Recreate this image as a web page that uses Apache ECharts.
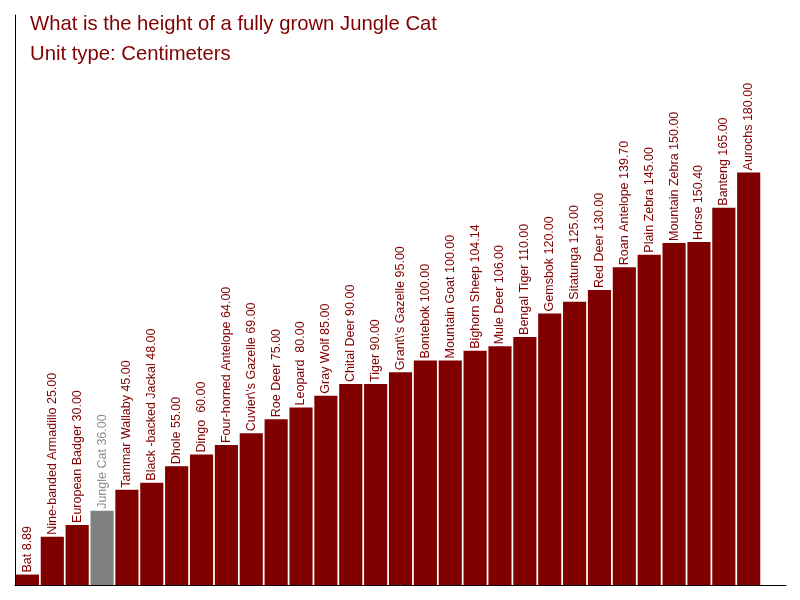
<!DOCTYPE html>
<html>
<head>
<meta charset="utf-8">
<script src="https://cdn.jsdelivr.net/npm/echarts@6/dist/echarts.min.js"></script>
<style>
  html, body { margin: 0; padding: 0; background: #fff; }
  #box { width: 800px; height: 600px; }
</style>
</head>
<body>
<div id="box"></div>
<script>
// data
var animals = ['Bat', 'Nine-banded Armadillo', 'European Badger', 'Jungle Cat', 'Tammar Wallaby',
  'Black -backed Jackal', 'Dhole', 'Dingo ', 'Four-horned Antelope', "Cuvier\\'s Gazelle",
  'Roe Deer', 'Leopard ', 'Gray Wolf', 'Chital Deer', 'Tiger', "Grant\\'s Gazelle", 'Bontebok',
  'Mountain Goat', 'Bighorn Sheep', 'Mule Deer', 'Bengal Tiger', 'Gemsbok', 'Sitatunga',
  'Red Deer', 'Roan Antelope', 'Plain Zebra', 'Mountain Zebra', 'Horse', 'Banteng', 'Aurochs'];
var heights = [8.89, 25, 30, 36, 45, 48, 55, 60, 64, 69, 75, 80, 85, 90, 90, 95, 100, 100,
  104.14, 106, 110, 120, 125, 130, 139.7, 145, 150, 150.4, 165, 180];
var highlight = 'Jungle Cat';

var barColor = '#800000';
var greyColor = '#808080';

var chart = echarts.init(document.getElementById('box'));

var seriesData = heights.map(function (v, i) {
  var isHi = animals[i] === highlight;
  return {
    value: v,
    itemStyle: { color: isHi ? greyColor : barColor },
    label: { color: isHi ? '#8c8c8c' : barColor }
  };
});

chart.setOption({
  animation: false,
  title: {
    text: 'What is the height of a fully grown Jungle Cat\nUnit type: Centimeters',
    left: 25,
    top: 4,
    textStyle: {
      color: barColor,
      fontFamily: 'Liberation Sans, Arial, sans-serif',
      fontSize: 20.3,
      fontWeight: 'normal',
      lineHeight: 30
    }
  },
  grid: { left: 15, right: 14, top: 15, bottom: 15 },
  xAxis: {
    type: 'category',
    // one empty slot at the end so the axis runs past the last bar
    data: animals.concat(['']),
    axisLine: { lineStyle: { color: '#000', width: 1 } },
    axisTick: { show: false },
    axisLabel: { show: false },
    splitLine: { show: false }
  },
  yAxis: {
    type: 'value',
    min: 4.445,
    max: 247,
    axisLine: { show: true, lineStyle: { color: '#000', width: 1 } },
    axisTick: { show: false },
    axisLabel: { show: false },
    splitLine: { show: false }
  },
  series: [{
    type: 'bar',
    barCategoryGap: '7%',
    data: seriesData,
    label: {
      show: true,
      position: 'top',
      rotate: 90,
      align: 'left',
      verticalAlign: 'middle',
      distance: 2,
      fontFamily: 'Liberation Sans, Arial, sans-serif',
      fontSize: 12.5,
      formatter: function (p) {
        return p.name + ' ' + p.value.toFixed(2);
      }
    }
  }]
});
</script>
</body>
</html>
